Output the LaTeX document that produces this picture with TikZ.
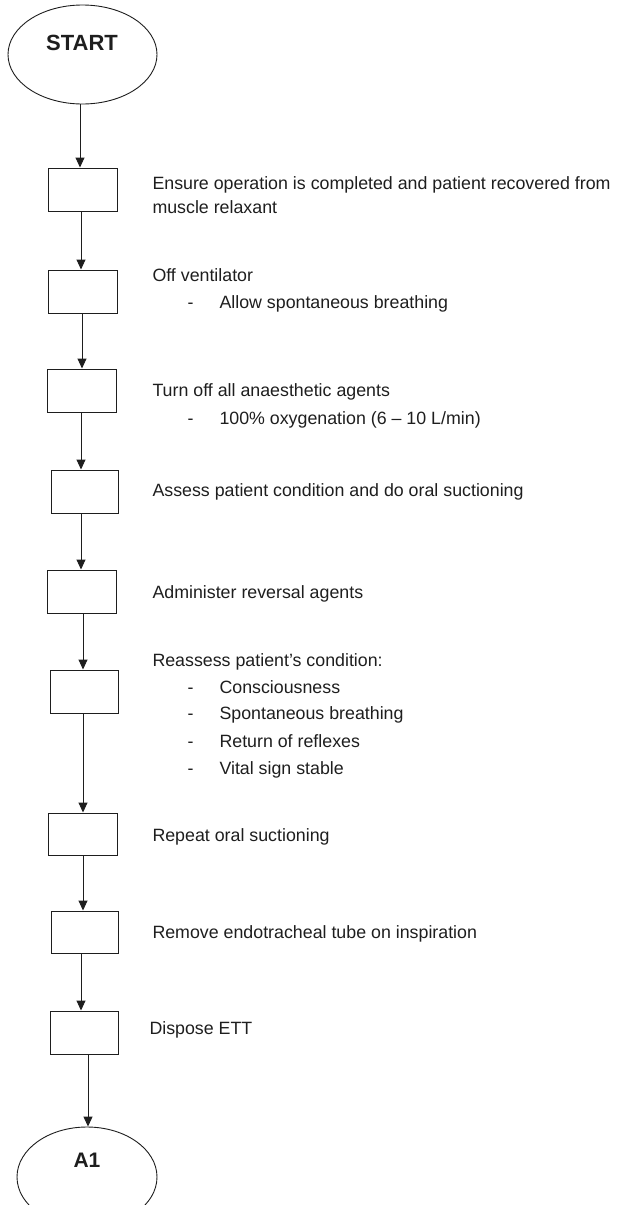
\documentclass[tikz,border=0pt]{standalone}
\usepackage{fontspec}
\setmainfont{Liberation Sans}
\usetikzlibrary{shapes.geometric,arrows.meta}
\definecolor{ink}{HTML}{1E1E1E}
\begin{document}
\begin{tikzpicture}[x=1pt,y=-1pt,
  line width=1pt, draw=ink,
  terminal/.style={ellipse, draw=ink, line width=0.9pt, inner sep=0pt},
  termtext/.style={font=\fontsize{22}{26}\selectfont\bfseries, text=ink, inner sep=0pt},
  stepbox/.style={rectangle, draw=ink, line width=1pt, minimum width=68pt, minimum height=43pt, inner sep=0pt},
  txt/.style={font=\fontsize{17.8}{24}\selectfont, text=ink, inner sep=0pt, anchor=base west},
  flow/.style={draw=ink, line width=1pt, -{Triangle[length=10pt,width=9pt]}}
]
\useasboundingbox (0,0) rectangle (630,1205);

% terminals
\node[terminal, minimum width=149pt, minimum height=99pt] (start) at (82.5,54.5) {};
\node[termtext] (startlbl) at (82,43) {START};
\node[terminal, minimum width=140pt, minimum height=100pt] (a1) at (87,1177) {};
\node[termtext, font=\fontsize{21}{25}\selectfont\bfseries] (a1lbl) at (87,1160) {A1};

% process boxes
\node[stepbox, minimum width=69pt] (b1) at (82.5,189.5) {};
\node[stepbox, minimum width=69pt] (b2) at (82.5,291.5) {};
\node[stepbox, minimum width=69pt] (b3) at (81.5,390.5) {};
\node[stepbox, minimum width=67pt] (b4) at (84.5,491.5) {};
\node[stepbox, minimum width=69pt] (b5) at (81.5,591.5) {};
\node[stepbox] (b6) at (84,691.5) {};
\node[stepbox, minimum width=69pt, minimum height=42pt] (b7) at (82.5,834) {};
\node[stepbox, minimum width=67pt, minimum height=42pt] (b8) at (84.5,932) {};
\node[stepbox, minimum height=43pt] (b9) at (84,1032.5) {};

% connectors (vertical, each at its own x)
\draw[flow] ([xshift=-2.5pt]start.south) -- ([xshift=-2.5pt]b1.north);
\draw[flow] ([xshift=-1.5pt]b1.south) -- ([xshift=-1.5pt]b2.north);
\draw[flow] ([xshift=-0.5pt]b2.south) -- ([xshift=0.5pt]b3.north);
\draw[flow] ([xshift=-0.5pt]b3.south) -- ([xshift=-3.5pt]b4.north);
\draw[flow] ([xshift=-3.5pt]b4.south) -- ([xshift=-0.5pt]b5.north);
\draw[flow] ([xshift=1.5pt]b5.south) -- ([xshift=-1pt]b6.north);
\draw[flow] ([xshift=-1pt]b6.south) -- ([xshift=0.5pt]b7.north);
\draw[flow] ([xshift=0.5pt]b7.south) -- ([xshift=-1.5pt]b8.north);
\draw[flow] ([xshift=-3.5pt]b8.south) -- ([xshift=-3pt]b9.north);
\draw[flow] ([xshift=4pt]b9.south) -- ([xshift=1pt]a1.north);

% step descriptions
\node[txt] (t1a) at (152,189) {Ensure operation is completed and patient recovered from};
\node[txt] (t1b) at (152,213) {muscle relaxant};

\node[txt] (t2a) at (152,281) {Off ventilator};
\node[txt] (t2d) at (187,308) {-};
\node[txt] (t2b) at (219,308) {Allow spontaneous breathing};

\node[txt] (t3a) at (152,396) {Turn off all anaesthetic agents};
\node[txt] (t3d) at (187,424) {-};
\node[txt] (t3b) at (219,424) {100\% oxygenation (6 – 10 L/min)};

\node[txt] (t4) at (152,496) {Assess patient condition and do oral suctioning};

\node[txt] (t5) at (152,598) {Administer reversal agents};

\node[txt] (t6a) at (152,666) {Reassess patient’s condition:};
\node[txt] (t6d1) at (187,693) {-};
\node[txt] (t6b) at (219,693) {Consciousness};
\node[txt] (t6d2) at (187,719) {-};
\node[txt] (t6c) at (219,719) {Spontaneous breathing};
\node[txt] (t6d3) at (187,747) {-};
\node[txt] (t6e) at (219,747) {Return of reflexes};
\node[txt] (t6d4) at (187,774) {-};
\node[txt] (t6f) at (219,774) {Vital sign stable};

\node[txt] (t7) at (152,841) {Repeat oral suctioning};
\node[txt] (t8) at (152,938) {Remove endotracheal tube on inspiration};
\node[txt] (t9) at (149,1034) {Dispose ETT};
\end{tikzpicture}
\end{document}
